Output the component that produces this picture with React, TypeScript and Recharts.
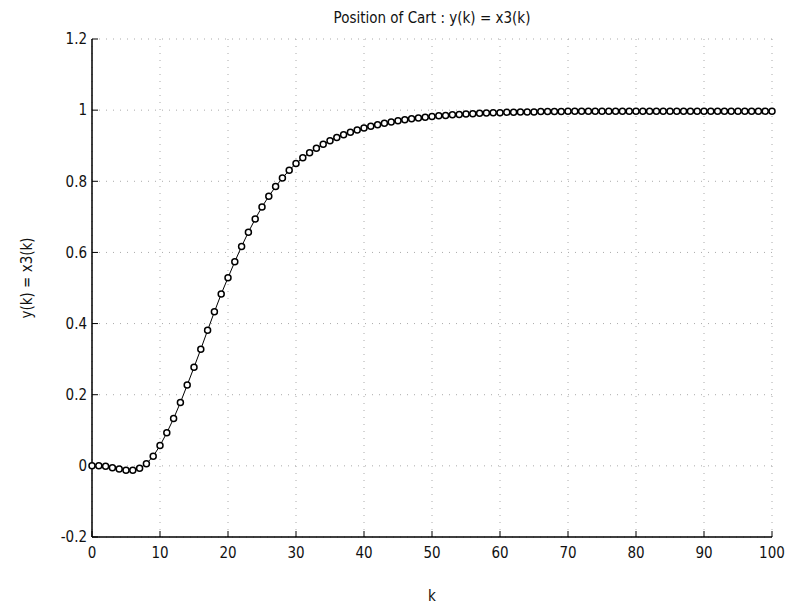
import React from "react";
import {
  CartesianGrid,
  Line,
  LineChart,
  XAxis,
  YAxis,
} from "recharts";

// Cart position response, one sample per step k = 0..100
const positions = [
  0.0, 0.0, -0.001, -0.005, -0.009, -0.012, -0.012, -0.007, 0.006, 0.027,
  0.057, 0.093, 0.133, 0.178, 0.227, 0.277, 0.328, 0.381, 0.433, 0.483,
  0.529, 0.574, 0.617, 0.657, 0.694, 0.728, 0.758, 0.785, 0.809, 0.831,
  0.85, 0.866, 0.88, 0.893, 0.904, 0.914, 0.923, 0.931, 0.938, 0.944,
  0.95, 0.955, 0.959, 0.963, 0.967, 0.97, 0.973, 0.976, 0.978, 0.98,
  0.982, 0.984, 0.985, 0.987, 0.988, 0.989, 0.99, 0.991, 0.992, 0.993,
  0.993, 0.994, 0.994, 0.995, 0.995, 0.995, 0.996, 0.996, 0.996, 0.996,
  0.997, 0.997, 0.997, 0.997, 0.997, 0.997, 0.997, 0.997, 0.997, 0.997,
  0.997, 0.997, 0.997, 0.997, 0.997, 0.997, 0.997, 0.997, 0.997, 0.997,
  0.997, 0.997, 0.997, 0.997, 0.997, 0.997, 0.997, 0.997, 0.997, 0.997,
  0.997,
];

const xTicks = [0, 10, 20, 30, 40, 50, 60, 70, 80, 90, 100];
const yTicks = [-0.2, 0, 0.2, 0.4, 0.6, 0.8, 1, 1.2];

const data = positions.map((y, k) => ({ k, y }));

const FONT = "'Liberation Sans Narrow', 'DejaVu Sans Condensed', sans-serif";
const tickStyle = { fontSize: 15, fill: "#111", fontFamily: FONT };

const fmtY = (v: number) => (v === 0 ? "0" : String(Number(v.toFixed(1))));

export default function App() {
  return (
    <div
      style={{
        position: "absolute",
        left: 0,
        top: 0,
        width: 794,
        height: 608,
        background: "#fff",
        fontFamily: FONT,
      }}
    >
      <div
        style={{
          position: "absolute",
          top: 9,
          left: 0,
          width: 864,
          textAlign: "center",
          fontSize: 15,
          color: "#111",
        }}
      >
        Position of Cart : y(k) = x3(k)
      </div>
      <div
        style={{
          position: "absolute",
          left: 27,
          top: 278,
          transform: "translate(-50%, -50%) rotate(-90deg)",
          fontSize: 15,
          color: "#111",
          whiteSpace: "nowrap",
        }}
      >
        y(k) = x3(k)
      </div>
      <div
        style={{
          position: "absolute",
          left: 432,
          top: 596,
          transform: "translate(-50%, -50%)",
          fontSize: 15,
          color: "#111",
        }}
      >
        k
      </div>
      <LineChart
        width={794}
        height={608}
        data={data}
        margin={{ top: 39, right: 22, bottom: 21, left: 32 }}
      >
        <CartesianGrid
          xAxisId="bottom"
          yAxisId="left"
          stroke="#aaa"
          strokeDasharray="1 6"
          strokeWidth={1}
        />
        <XAxis
          xAxisId="bottom"
          dataKey="k"
          type="number"
          domain={[0, 100]}
          ticks={xTicks}
          height={50}
          axisLine={{ stroke: "#000", strokeWidth: 1.5 }}
          tickLine={{ stroke: "#000" }}
          tickSize={-6}
          tickMargin={16}
          tick={tickStyle}
        />
        <XAxis
          xAxisId="top"
          orientation="top"
          dataKey="k"
          type="number"
          domain={[0, 100]}
          ticks={xTicks}
          height={0}
          axisLine={{ stroke: "#000", strokeWidth: 1.5 }}
          tickLine={{ stroke: "#000" }}
          tickSize={-6}
          tick={false}
        />
        <YAxis
          yAxisId="left"
          type="number"
          domain={[-0.2, 1.2]}
          ticks={yTicks}
          width={60}
          tickFormatter={fmtY}
          axisLine={{ stroke: "#000", strokeWidth: 1.5 }}
          tickLine={{ stroke: "#000" }}
          tickSize={-6}
          tickMargin={11}
          tick={tickStyle}
        />
        <YAxis
          yAxisId="right"
          orientation="right"
          type="number"
          domain={[-0.2, 1.2]}
          ticks={yTicks}
          width={0}
          axisLine={{ stroke: "#000", strokeWidth: 1.5 }}
          tickLine={{ stroke: "#000" }}
          tickSize={-6}
          tick={false}
        />
        <Line
          xAxisId="bottom"
          yAxisId="left"
          type="linear"
          dataKey="y"
          stroke="#000"
          strokeWidth={1}
          dot={{ r: 3, stroke: "#000", strokeWidth: 1.5, fill: "#fff" }}
          isAnimationActive={false}
        />
      </LineChart>
    </div>
  );
}
